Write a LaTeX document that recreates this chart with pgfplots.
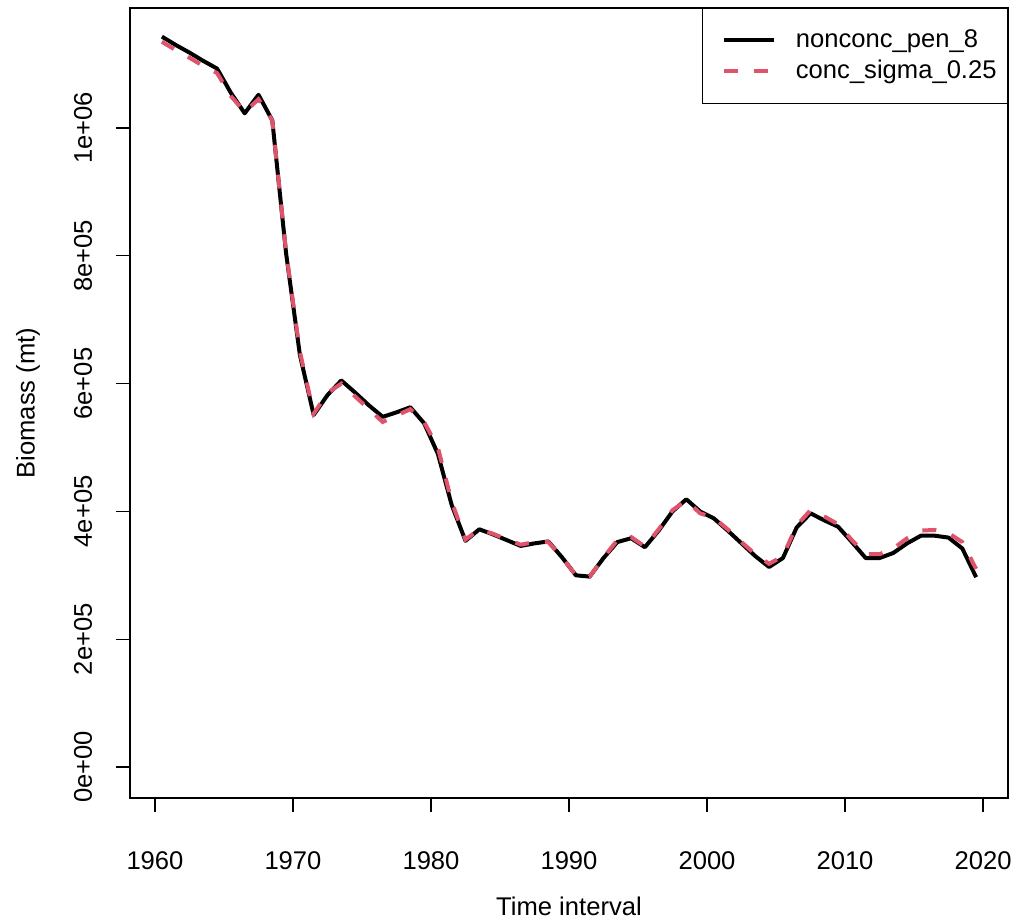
\documentclass[border=0pt]{standalone}
\usepackage{pgfplots}
\pgfplotsset{compat=1.18}
\usepackage{fontspec}
\setmainfont{Liberation Sans}
\definecolor{rred}{HTML}{DF536B}
\begin{document}
\fontsize{12.8}{15.4}\selectfont
\begin{tikzpicture}
\useasboundingbox (-65pt,-62.5pt) rectangle (443pt,399pt);
\begin{axis}[
  at={(0,0)}, anchor=south west,
  scale only axis, width=439pt, height=395pt,
  xmin=1958.19, xmax=2021.81,
  ymin=-48500, ymax=1187800,
  axis line style={line width=0.6pt},
  tick align=outside, major tick length=7pt,
  tick style={black, line width=0.6pt},
  xtick={1960,1970,1980,1990,2000,2010,2020},
  xticklabels={1960,1970,1980,1990,2000,2010,2020},
  ytick={0,200000,400000,600000,800000,1000000},
  yticklabels={0e+00,2e+05,4e+05,6e+05,8e+05,1e+06},
  scaled ticks=false,
  xtick pos=bottom, ytick pos=left,
  xticklabel style={anchor=center, yshift=-24.5pt},
  yticklabel style={rotate=90, anchor=center, yshift=16.5pt},
  xlabel={Time interval},
  ylabel={Biomass (mt)},
  xlabel style={at={(axis description cs:0.5,0)}, anchor=center, yshift=-54pt},
  ylabel style={at={(axis description cs:0,0.5)}, anchor=center, yshift=51pt},
  legend style={at={(1,1)}, anchor=north east, draw=black,
    legend cell align=left, inner xsep=0pt, inner ysep=9.5pt,
    nodes={inner xsep=5.5pt, inner ysep=1pt}, row sep=2.2pt},
  legend image code/.code={\path[draw=none] (-11pt,0pt) -- (30.5pt,0pt); \draw[#1] (0pt,0cm) -- (25pt,0cm);},
]
\addplot[black, line width=2pt, line join=round] coordinates {
(1960.5,1143000)(1961.5,1130000)(1962.5,1118000)(1963.5,1105000)(1964.5,1093000)
(1965.5,1055000)(1966.5,1023000)(1967.5,1052000)(1968.5,1012000)(1969.5,804000)
(1970.5,645000)(1971.5,551000)(1972.5,582000)(1973.5,605000)(1974.5,586000)
(1975.5,566000)(1976.5,548000)(1977.5,555000)(1978.5,563000)(1979.5,538000)
(1980.5,490000)(1981.5,410000)(1982.5,354000)(1983.5,372000)(1984.5,364000)
(1985.5,355000)(1986.5,346000)(1987.5,350000)(1988.5,353000)(1989.5,328000)
(1990.5,300000)(1991.5,298000)(1992.5,327000)(1993.5,352000)(1994.5,358000)
(1995.5,344000)(1996.5,370000)(1997.5,400000)(1998.5,419000)(1999.5,400000)
(2000.5,389000)(2001.5,370000)(2002.5,350000)(2003.5,330000)(2004.5,313000)
(2005.5,327000)(2006.5,375000)(2007.5,397000)(2008.5,386000)(2009.5,376000)
(2010.5,352000)(2011.5,327000)(2012.5,327000)(2013.5,335000)(2014.5,350000)
(2015.5,362000)(2016.5,362000)(2017.5,359000)(2018.5,342000)(2019.5,297000)
};
\addlegendentry{nonconc\_pen\_8}
\addplot[rred, line width=2pt, dash pattern=on 7pt off 8pt] coordinates {
(1960.5,1135000)(1961.5,1122000)(1962.5,1110000)(1963.5,1097000)(1964.5,1086000)
(1965.5,1050000)(1966.5,1025000)(1967.5,1045000)(1968.5,1012000)(1969.5,806000)
(1970.5,650000)(1971.5,553000)(1972.5,585000)(1973.5,600000)(1974.5,580000)
(1975.5,560000)(1976.5,540000)(1977.5,550000)(1978.5,560000)(1979.5,540000)
(1980.5,500000)(1981.5,415000)(1982.5,356000)(1983.5,372000)(1984.5,365000)
(1985.5,356000)(1986.5,348000)(1987.5,352000)(1988.5,352000)(1989.5,328000)
(1990.5,300000)(1991.5,298000)(1992.5,328000)(1993.5,355000)(1994.5,360000)
(1995.5,345000)(1996.5,372000)(1997.5,402000)(1998.5,417000)(1999.5,397000)
(2000.5,390000)(2001.5,372000)(2002.5,352000)(2003.5,333000)(2004.5,318000)
(2005.5,330000)(2006.5,378000)(2007.5,402000)(2008.5,392000)(2009.5,380000)
(2010.5,355000)(2011.5,333000)(2012.5,333000)(2013.5,342000)(2014.5,358000)
(2015.5,370000)(2016.5,371000)(2017.5,366000)(2018.5,352000)(2019.5,310000)
};
\addlegendentry{conc\_sigma\_0.25}
\end{axis}
\end{tikzpicture}
\end{document}
